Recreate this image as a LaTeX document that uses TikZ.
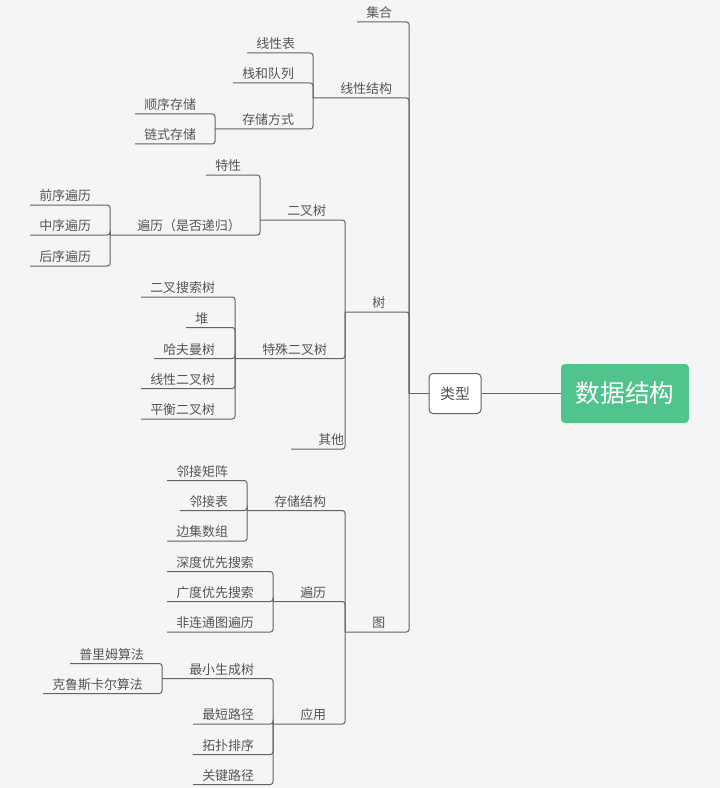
\documentclass[tikz,border=0pt]{standalone}
\usepackage{fontspec}
\setmainfont{Noto Sans CJK SC}
\definecolor{bgcol}{RGB}{245,245,245}
\definecolor{linecol}{RGB}{100,100,100}
\definecolor{txtcol}{RGB}{85,85,85}
\definecolor{rootcol}{RGB}{80,196,140}
\begin{document}
\begin{tikzpicture}[x=0.75pt,y=-0.75pt,
    every node/.style={font=\fontsize{9.7}{11}\selectfont,text=txtcol},
    topic/.style={anchor=south west,inner xsep=6.75pt,inner ysep=0pt,
      minimum height=13.5pt,text height=8.5pt,text depth=1.2pt},
    branch/.style={topic,inner xsep=20.25pt},
    link/.style={draw=linecol,line width=0.75pt,rounded corners=2pt},
    trunk/.style={draw=linecol,line width=1.4pt},
    typebox/.style={draw=linecol,fill=white,rounded corners=3pt,line width=0.75pt,
      minimum width=39pt,minimum height=30pt,font=\fontsize{11.2}{13}\selectfont},
    rootbox/.style={fill=rootcol,rounded corners=3pt,text=white,
      minimum width=96pt,minimum height=44.25pt,font=\fontsize{18.5}{21}\selectfont}]
  \fill[bgcol] (0,0) rectangle (720,788);
  \useasboundingbox (0,0) rectangle (720,788);
  \node[rootbox] (root) at (625,393.5) {数据结构};
  \node[typebox] (leixing) at (455,393.5) {类型};
  \coordinate (hub) at (409,393.5);
  \node[topic] (jihe) at (357,22) {集合};
  \node[branch] (xxjg) at (313,98) {线性结构};
  \node[branch] (shu) at (345,312) {树};
  \node[branch] (tu) at (345,632) {图};
  \node[topic] (xxb) at (247,53) {线性表};
  \node[topic] (zhan) at (233,83) {栈和队列};
  \node[branch] (ccfs) at (215,129) {存储方式};
  \node[topic] (shunxu) at (135,114) {顺序存储};
  \node[topic] (lianshi) at (135,144) {链式存储};
  \node[branch] (ercha) at (260,220) {二叉树};
  \node[branch] (teshu) at (235,358.5) {特殊二叉树};
  \node[branch] (qita) at (291,449) {其他};
  \node[topic] (texing) at (206,175) {特性};
  \node[branch] (bianli) at (110,235) {遍历（是否递归）};
  \node[topic] (qianxu) at (30,205) {前序遍历};
  \node[topic] (zhongxu) at (30,235) {中序遍历};
  \node[topic] (houxu) at (30,266) {后序遍历};
  \node[topic] (sousuo) at (141,297) {二叉搜索树};
  \node[topic] (dui) at (186,327.5) {堆};
  \node[topic] (hafuman) at (154,358.5) {哈夫曼树};
  \node[topic] (xianxu) at (141,388.5) {线性二叉树};
  \node[topic] (pingheng) at (141,419) {平衡二叉树};
  \node[branch] (ccjg) at (247,510.5) {存储结构};
  \node[branch] (tubl) at (273,601.5) {遍历};
  \node[branch] (yingyong) at (273,724) {应用};
  \node[topic] (juzhen) at (167,480.5) {邻接矩阵};
  \node[topic] (linjie) at (180,510.5) {邻接表};
  \node[topic] (bianji) at (167,541) {边集数组};
  \node[topic] (shendu) at (167,571.5) {深度优先搜索};
  \node[topic] (guangdu) at (167,601.5) {广度优先搜索};
  \node[topic] (feilt) at (167,632) {非连通图遍历};
  \node[branch] (zuixiao) at (162,678.5) {最小生成树};
  \node[topic] (zuiduan) at (193,724) {最短路径};
  \node[topic] (tuopu) at (193,754.5) {拓扑排序};
  \node[topic] (guanjian) at (193,784.5) {关键路径};
  \node[topic] (prim) at (70,663.5) {普里姆算法};
  \node[topic] (kruskal) at (43,693.5) {克鲁斯卡尔算法};
  \foreach \c in {jihe,xxjg,shu,tu} \draw[link] (\c.south west) -| (hub);
  \draw[link] (hub) -- (leixing.west);
  \draw[trunk] (leixing.east) -- (root.west);
  \foreach \c/\p in {xxb/xxjg,zhan/xxjg,ccfs/xxjg,shunxu/ccfs,lianshi/ccfs,
      ercha/shu,teshu/shu,qita/shu,texing/ercha,bianli/ercha,
      qianxu/bianli,zhongxu/bianli,houxu/bianli,
      sousuo/teshu,dui/teshu,hafuman/teshu,xianxu/teshu,pingheng/teshu,
      ccjg/tu,tubl/tu,yingyong/tu,juzhen/ccjg,linjie/ccjg,bianji/ccjg,
      shendu/tubl,guangdu/tubl,feilt/tubl,
      zuixiao/yingyong,zuiduan/yingyong,tuopu/yingyong,guanjian/yingyong,
      prim/zuixiao,kruskal/zuixiao}
    \draw[link] (\c.south west) -| (\p.south west);
\end{tikzpicture}
\end{document}
